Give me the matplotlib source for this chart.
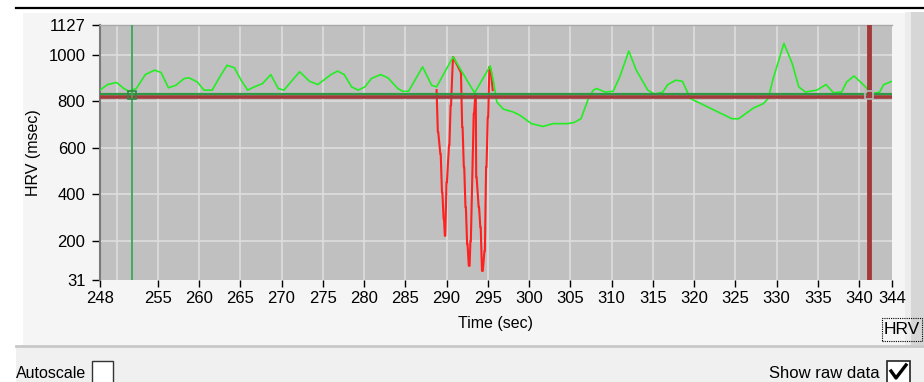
import matplotlib
matplotlib.use('Agg')
import matplotlib.pyplot as plt
from matplotlib.patches import Rectangle
from matplotlib.lines import Line2D

plt.rcParams['font.family'] = ['Liberation Sans', 'DejaVu Sans']

# HRV curve (sec, msec)
hrv_t = [248.0, 248.9, 250.0, 250.9, 251.5, 252.4, 253.5, 254.6, 255.4, 256.3,
         257.2, 258.2, 258.8, 259.8, 260.6, 261.6, 262.4, 263.4, 264.3, 265.1,
         265.9, 266.7, 267.7, 268.7, 269.6, 270.3, 271.2, 272.2, 273.4, 274.4,
         276.0, 276.8, 277.6, 278.5, 279.3, 280.1, 280.9, 282.0, 282.9, 284.1,
         284.7, 285.4, 287.1, 288.2, 288.8, 290.8, 293.4, 295.3, 295.7, 296.1,
         296.9, 298.1, 298.9, 300.3, 301.7, 302.9, 304.6, 305.4, 306.3, 307.2,
         307.8, 308.2, 309.2, 310.2, 311.0, 312.1, 313.0, 314.4, 315.2, 316.2,
         316.8, 317.8, 318.6, 319.2, 319.5, 324.6, 325.4, 327.2, 328.4, 329.0,
         329.6, 330.9, 331.9, 332.7, 333.5, 334.9, 336.0, 336.9, 337.9, 338.5,
         339.4, 340.8, 341.4, 342.5, 343.0, 344.0]
hrv_v = [847, 871, 880, 854, 842, 854, 914, 933, 923, 857,
         868, 897, 900, 882, 847, 847, 897, 954, 943, 890,
         847, 861, 875, 914, 854, 847, 885, 926, 885, 871,
         914, 929, 914, 861, 847, 861, 897, 914, 900, 854,
         842, 842, 947, 868, 861, 990, 835, 951, 882, 796,
         765, 753, 739, 703, 691, 703, 703, 707, 724, 811,
         847, 854, 839, 842, 904, 1015, 933, 847, 830, 838,
         870, 890, 885, 838, 812, 724, 724, 770, 789, 811,
         897, 1048, 962, 861, 839, 847, 871, 836, 839, 882,
         908, 861, 830, 839, 871, 885]

# raw data (shown where it departs from the HRV curve)
raw_t = [288.8, 288.95, 289.0, 289.25, 289.3, 289.45, 289.5, 289.65, 289.7, 289.8,
         289.85, 290.0, 290.05, 290.3, 290.35, 290.5, 290.55, 290.7, 290.8,
         291.7, 291.75, 291.9, 291.95, 292.1, 292.15, 292.3, 292.35, 292.5, 292.55, 292.7,
         292.8, 292.9, 292.95, 293.3, 293.35, 293.5,
         293.55, 293.6, 293.65, 293.9, 293.95, 294.1, 294.15, 294.3,
         294.4, 294.6, 294.65, 294.8, 294.85, 295.0, 295.05, 295.2, 295.4, 295.6]
raw_v = [847, 667, 667, 573, 573, 408, 408, 293, 293, 221,
         221, 451, 451, 609, 609, 782, 782, 919, 990,
         926, 926, 688, 688, 516, 516, 343, 343, 185, 185, 92,
         92, 199, 199, 746, 746, 832,
         832, 473, 473, 343, 343, 257, 257, 70,
         70, 156, 156, 516, 516, 731, 731, 947, 926, 847]

x_ticks = [248, 255, 260, 265, 270, 275, 280, 285, 290, 295, 300, 305, 310,
           315, 320, 325, 330, 335, 340, 344]
x_grid = [250, 255, 260, 265, 270, 275, 280, 285, 290, 295, 300, 305, 310,
          315, 320, 325, 330, 335, 340]
y_ticks = [31, 200, 400, 600, 800, 1000, 1127]
y_grid = [200, 400, 600, 800, 1000]

mean_level = 831
median_level = 818
cursor_left = 251.9
cursor_right = 341.2

W, H = 924, 382


def fx(x):
    return x / W


def fy(y):
    return 1 - y / H


fig = plt.figure(figsize=(9.24, 3.82), dpi=100)
fig.patch.set_facecolor('white')

# window frame pieces
fig.add_artist(Rectangle((fx(23), fy(345)), fx(905) - fx(23), fy(13) - fy(345),
                         transform=fig.transFigure, fc='#f5f5f5', ec='none', zorder=0))
fig.add_artist(Rectangle((fx(905), fy(345)), fx(911) - fx(905), fy(12) - fy(345),
                         transform=fig.transFigure, fc='#ececec', ec='none', zorder=0))
fig.add_artist(Rectangle((fx(911), fy(345)), fx(924) - fx(911), fy(12) - fy(345),
                         transform=fig.transFigure, fc='#d6d6d6', ec='none', zorder=0))
fig.add_artist(Rectangle((fx(16), 0), 1 - fx(16), fy(347),
                         transform=fig.transFigure, fc='#f0f0f0', ec='none', zorder=0))
fig.add_artist(Line2D([fx(16), 1], [fy(346), fy(346)], transform=fig.transFigure,
                      color='#c8c8c8', lw=2))
fig.add_artist(Line2D([fx(16), 1], [fy(8), fy(8)], transform=fig.transFigure,
                      color='black', lw=1.6))

ax = fig.add_axes([fx(100), fy(280), fx(892) - fx(100), fy(25) - fy(280)])
ax.set_facecolor('#c0c0c0')
ax.set_xlim(248, 344)
ax.set_ylim(31, 1127)

for g in x_grid:
    ax.axvline(g, color='#dedede', lw=1.2, zorder=1)
for g in y_grid:
    ax.axhline(g, color='#dedede', lw=1.2, zorder=1)

ax.plot(raw_t, raw_v, color='#ff2020', lw=1.5, zorder=3)
ax.plot(hrv_t, hrv_v, color='#22ee22', lw=1.2, zorder=4)

ax.axhline(median_level, color='#a33a3a', lw=2.6, zorder=5)
ax.axhline(mean_level, color='#2f9a45', lw=1.6, zorder=5)
ax.axvline(cursor_left, color='#3aa858', lw=1.3, zorder=6)
ax.axvline(cursor_right, color='#a33a3a', lw=3.5, zorder=6)
ax.plot([cursor_left], [824], marker='s', ms=6, mfc='none', mec='#2f8a40', mew=1.2, zorder=7)
ax.plot([cursor_right], [824], marker='s', ms=6, mfc='none', mec='#b8b8b8', mew=1.2, zorder=7)

ax.set_xticks(x_ticks)
ax.set_yticks(y_ticks)
ax.tick_params(axis='both', labelsize=12, colors='black', width=1)
ax.tick_params(axis='y', length=6, pad=4.5)
ax.tick_params(axis='x', length=5, pad=3)
ax.set_xlabel('Time (sec)', fontsize=11.5, labelpad=7)
ax.set_ylabel('HRV (msec)', fontsize=11.5, labelpad=5)

ax.spines['right'].set_visible(False)
ax.spines['bottom'].set_visible(False)
ax.spines['top'].set_color('#a8a8a8')
ax.spines['top'].set_linewidth(1)
ax.spines['left'].set_color('#7a7a7a')
ax.spines['left'].set_linewidth(1.5)

# HRV tab label
fig.add_artist(Rectangle((fx(882), fy(341)), fx(922) - fx(882), fy(318) - fy(341),
                         transform=fig.transFigure, fc='none', ec='black',
                         lw=0.8, ls=(0, (1, 1))))
fig.text(fx(902), fy(330), 'HRV', ha='center', va='center', fontsize=12.5)

# bottom controls
fig.text(fx(16), fy(373), 'Autoscale', ha='left', va='center', fontsize=11.5)
fig.add_artist(Rectangle((fx(92), fy(390)), fx(113) - fx(92), fy(361) - fy(390),
                         transform=fig.transFigure, fc='white', ec='#333333', lw=1))
fig.text(fx(880), fy(373), 'Show raw data', ha='right', va='center', fontsize=12)
fig.add_artist(Rectangle((fx(887), fy(390)), fx(910) - fx(887), fy(361) - fy(390),
                         transform=fig.transFigure, fc='white', ec='#222222', lw=1.2))
fig.add_artist(Line2D([fx(891), fx(896), fx(906)], [fy(371), fy(378), fy(365)],
                      transform=fig.transFigure, color='black', lw=2.4))

fig.savefig('out.png', dpi=100, facecolor=fig.get_facecolor())
